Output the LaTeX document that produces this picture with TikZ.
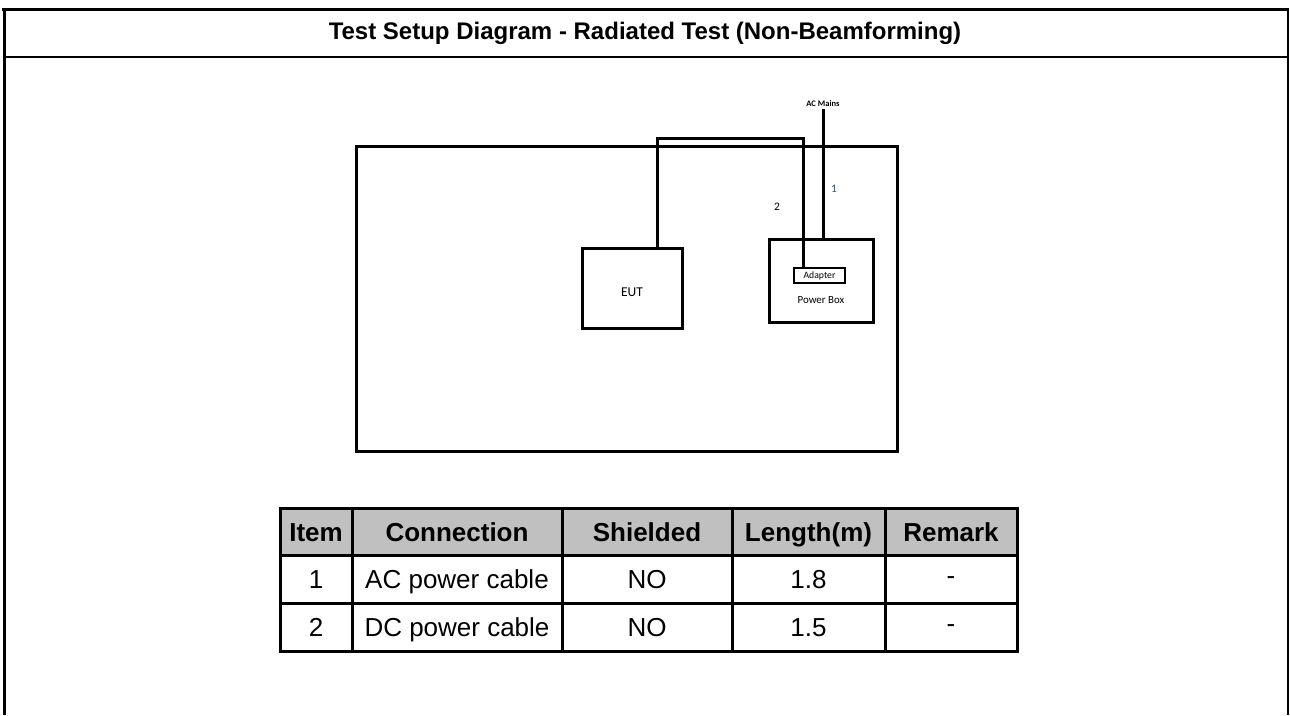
\documentclass[tikz,border=0pt]{standalone}
\usepackage{fontspec}
\setmainfont{Liberation Sans}
\newfontfamily\calfont{Carlito}
\usetikzlibrary{positioning}
\definecolor{hdrgray}{RGB}{192,192,192}
\definecolor{numblue}{RGB}{60,80,112}

\begin{document}
\begin{tikzpicture}[x=1pt, y=-1pt,
  frame/.style={line width=3pt},
  box/.style={draw, line width=3pt, inner sep=0pt},
  cable/.style={line width=3pt},
  dlbl/.style={font=\calfont\fontsize{11.5}{13}\selectfont},
  cell/.style={font=\fontsize{26}{30}\selectfont, inner sep=0pt, anchor=base},
  hcell/.style={font=\bfseries\fontsize{26}{30}\selectfont, inner sep=0pt, anchor=base},
  grid/.style={line width=3pt}
]
  \useasboundingbox (0,0) rectangle (1290,715);
  % Frame and title
  \draw[frame] (2,9) -- (1289,9);
  \draw[frame] (4,9) -- (4,715);
  \draw[line width=2pt] (1288,9) -- (1288,715);
  \draw[line width=2.5pt] (4,57) -- (1288,57);
  \node[font=\bfseries\fontsize{24}{28}\selectfont] (title) at (645,33)
    {Test Setup Diagram - Radiated Test (Non-Beamforming)};

  % Setup
  \node[box, minimum width=541pt, minimum height=305pt] (room) at (626.5,298.5) {};
  \node[box, minimum width=100pt, minimum height=80pt] (eut) at (632,288) {};
  \node[font=\calfont\fontsize{13.5}{15}\selectfont] (eutlbl) at (632,292) {EUT};
  \node[box, minimum width=104pt, minimum height=83pt] (pbox) at (821,280.5) {};
  \node[box, line width=2.5pt, minimum width=51pt, minimum height=15pt,
    font=\calfont\fontsize{9.7}{11}\selectfont] (adapt) at (819.5,275.5) {Adapter};
  \node[font=\calfont\fontsize{10.9}{12}\selectfont] (pblbl) at (821,300) {Power Box};
  \node[font=\calfont\bfseries\fontsize{8.5}{10}\selectfont, inner sep=2pt] (acm) at (823,104) {AC Mains};
  \node[dlbl] (n2) at (777,207) {2};
  \node[dlbl, numblue] (n1) at (834,189) {1};
  % Cables
  \draw[cable] (acm.south) -- (acm.south |- pbox.north);
  \draw[cable] ([xshift=25pt]eut.north) -- ++(0,-108.5) -| ([xshift=-16.5pt]adapt.north);

  % Table
  \fill[hdrgray] (280,508) rectangle (1017,555);
  \foreach \x in {280,352,562,732,885,1017}
    \draw[grid] (\x,508) -- (\x,651);
  \foreach \y in {508,555,603,651}
    \draw[grid] (278.5,\y) -- (1018.5,\y);
  \node[hcell] (h-item) at (316,541) {Item};
  \node[hcell] (h-conn) at (457,541) {Connection};
  \node[hcell] (h-shield) at (647,541) {Shielded};
  \node[hcell] (h-len) at (808.5,541) {Length(m)};
  \node[hcell] (h-rem) at (951,541) {Remark};
  \foreach \i/\conn/\len in {1/AC power cable/1.8, 2/DC power cable/1.5}{
    \pgfmathsetmacro\ry{588.5+(\i-1)*48}
    \node[cell] (item-\i) at (316,\ry) {\i};
    \node[cell] (conn-\i) at (457,\ry) {\conn};
    \node[cell] (shield-\i) at (647,\ry) {NO};
    \node[cell] (len-\i) at (808.5,\ry) {\len};
    \node[cell] (rem-\i) at (951,\ry-4) {-};
  }
\end{tikzpicture}
\end{document}
